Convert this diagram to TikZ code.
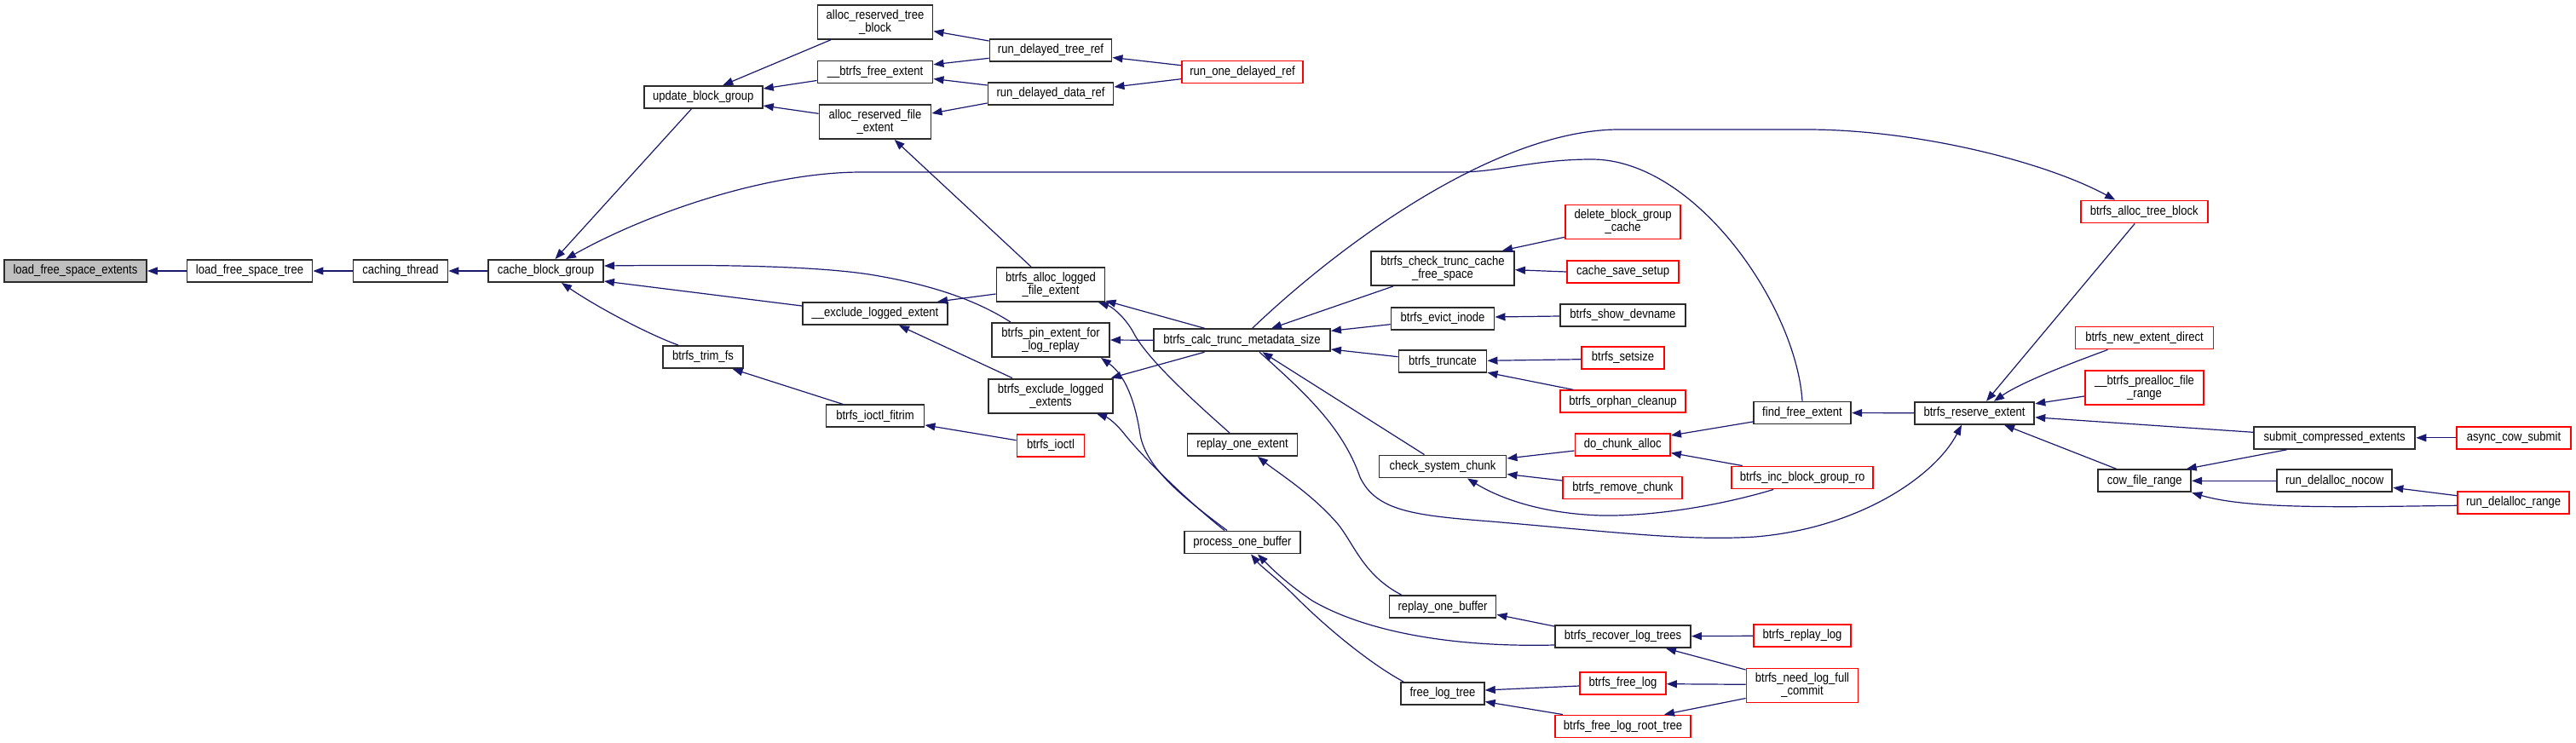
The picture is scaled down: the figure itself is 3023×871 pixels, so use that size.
\documentclass[tikz,border=0pt]{standalone}
\usepackage{fontspec}
\newfontfamily\dxfont[FakeStretch=0.87]{Liberation Sans}
\usetikzlibrary{arrows.meta}
\definecolor{edgec}{HTML}{191970}
\definecolor{nodeb}{HTML}{2B2B2B}
\definecolor{nodered}{HTML}{FF0000}
\tikzset{
  nb/.style={draw=nodeb, line width=1.9pt, fill=white, inner sep=0pt, minimum height=26pt,
    align=center, font=\dxfont\fontsize{15}{15}\selectfont},
  nr/.style={nb, draw=nodered},
  two/.style={minimum height=40pt},
  edge/.style={draw=edgec, line width=1.2pt, -{Triangle[length=12pt,width=9pt]}}
}
\begin{document}
\begin{tikzpicture}[x=1pt,y=-1pt]
\fill[white] (0,0) rectangle (3023,871);
\useasboundingbox (0,0) rectangle (3023,871);
% nodes
\node[nb, fill=gray!50, minimum width=167pt] (lfse) at (88.5,318) {load\_free\_space\_extents};
\node[nb, minimum width=147pt] (lfst) at (293,318) {load\_free\_space\_tree};
\node[nb, minimum width=111pt] (cth) at (470,318) {caching\_thread};
\node[nb, minimum width=135pt] (cbg) at (640.5,318) {cache\_block\_group};
\node[nb, minimum width=139pt] (ubg) at (825.3,114) {update\_block\_group};
\node[nb, two, minimum width=135pt] (artb) at (1027,25.8) {alloc\_reserved\_tree\\\_block};
\node[nb, minimum width=135pt] (bfe) at (1027,84.5) {\_\_btrfs\_free\_extent};
\node[nb, two, minimum width=131pt] (arfe) at (1027,143) {alloc\_reserved\_file\\\_extent};
\node[nb, minimum width=143pt] (rdtr) at (1233,59) {run\_delayed\_tree\_ref};
\node[nb, minimum width=147pt] (rddr) at (1233,110) {run\_delayed\_data\_ref};
\node[nr, minimum width=142pt] (rodr) at (1458,84.5) {run\_one\_delayed\_ref};
\node[nb, two, minimum width=127pt] (balfe) at (1233,334) {btrfs\_alloc\_logged\\\_file\_extent};
\node[nb, minimum width=170pt] (ele) at (1027,368) {\_\_exclude\_logged\_extent};
\node[nb, two, minimum width=138pt] (bpe) at (1233,399) {btrfs\_pin\_extent\_for\\\_log\_replay};
\node[nb, two, minimum width=145.5pt] (bele) at (1233,464.6) {btrfs\_exclude\_logged\\\_extents};
\node[nb, minimum width=94pt] (btfs) at (825,419) {btrfs\_trim\_fs};
\node[nb, minimum width=115pt] (bif) at (1027,488.4) {btrfs\_ioctl\_fitrim};
\node[nr, minimum width=79pt] (bio) at (1233,523) {btrfs\_ioctl};
\node[nb, minimum width=129pt] (roe) at (1458,522) {replay\_one\_extent};
\node[nb, minimum width=136pt] (pob) at (1458,636.5) {process\_one\_buffer};
\node[nb, minimum width=207pt] (bctms) at (1457.5,399.3) {btrfs\_calc\_trunc\_metadata\_size};
\node[nb, two, minimum width=168pt] (bctcfs) at (1693,315) {btrfs\_check\_trunc\_cache\\\_free\_space};
\node[nb, minimum width=121pt] (bei) at (1693,374) {btrfs\_evict\_inode};
\node[nb, minimum width=103pt] (btr) at (1693,424.3) {btrfs\_truncate};
\node[nb, minimum width=149pt] (csc) at (1693,547.5) {check\_system\_chunk};
\node[nb, minimum width=125pt] (rob) at (1693,712.3) {replay\_one\_buffer};
\node[nb, minimum width=97.5pt] (frt) at (1693,814) {free\_log\_tree};
\node[nr, two, minimum width=135pt] (dbgc) at (1904.6,260.5) {delete\_block\_group\\\_cache};
\node[nr, minimum width=131pt] (css) at (1904.6,319) {cache\_save\_setup};
\node[nb, minimum width=147pt] (bsd) at (1904.4,370) {btrfs\_show\_devname};
\node[nr, minimum width=97pt] (bss) at (1904.5,420) {btrfs\_setsize};
\node[nr, minimum width=147pt] (boc) at (1904.4,471.3) {btrfs\_orphan\_cleanup};
\node[nr, minimum width=111.5pt] (dca) at (1904.2,522) {do\_chunk\_alloc};
\node[nr, minimum width=140pt] (brc) at (1904.4,572.5) {btrfs\_remove\_chunk};
\node[nb, minimum width=159pt] (brlt) at (1904.5,747) {btrfs\_recover\_log\_trees};
\node[nr, minimum width=101pt] (bfl) at (1904.4,801.7) {btrfs\_free\_log};
\node[nr, minimum width=159pt] (bflrt) at (1904.5,852.5) {btrfs\_free\_log\_root\_tree};
\node[nb, minimum width=114.4pt] (ffe) at (2115,484.5) {find\_free\_extent};
\node[nr, minimum width=166.4pt] (bibgr) at (2115.2,560.5) {btrfs\_inc\_block\_group\_ro};
\node[nr, minimum width=114.4pt] (brl) at (2115,746) {btrfs\_replay\_log};
\node[nr, two, minimum width=131pt] (bnlfc) at (2115,804.5) {btrfs\_need\_log\_full\\\_commit};
\node[nb, minimum width=140.6pt] (bre) at (2317,484.8) {btrfs\_reserve\_extent};
\node[nr, minimum width=149pt] (batb) at (2516.2,248.5) {btrfs\_alloc\_tree\_block};
\node[nr, minimum width=162pt] (bned) at (2516.5,396.5) {btrfs\_new\_extent\_direct};
\node[nr, two, minimum width=139.3pt] (bpfr) at (2516.5,455) {\_\_btrfs\_prealloc\_file\\\_range};
\node[nb, minimum width=109pt] (cfr) at (2516.7,564.3) {cow\_file\_range};
\node[nb, minimum width=189.4pt] (sce) at (2739.7,513.8) {submit\_compressed\_extents};
\node[nb, minimum width=135.3pt] (rdn) at (2739.7,564.3) {run\_delalloc\_nocow};
\node[nr, minimum width=134.6pt] (acs) at (2950,513.8) {async\_cow\_submit};
\node[nr, minimum width=131pt] (rdr) at (2949.6,589.7) {run\_delalloc\_range};
% edges (caller -> callee, arrow at callee)
\draw[edge] (lfst) -- (lfse);
\draw[edge] (cth) -- (lfst);
\draw[edge] (cbg) -- (cth);
\draw[edge] ([xshift=-14pt]ubg.south) -- ([xshift=11pt]cbg.north);
\draw[edge] (ffe.north) .. controls (2108,360) and (1990,187) .. (1868,187) .. controls (1800,187) and (1760,202) .. (1712,202) -- (1011,202) .. controls (900,202) and (760,250) .. ([xshift=23.5pt]cbg.north);
\draw[edge] ([xshift=-47pt]bpe.north) .. controls (1150,355) and (1100,335) .. (1020,322) .. controls (940,310) and (800,311) .. ([yshift=6pt]cbg.east);
\draw[edge] ([yshift=9pt]ele.west) -- ([yshift=-12pt]cbg.east);
\draw[edge] ([xshift=-29pt]btfs.north) .. controls (760,392) and (700,360) .. ([xshift=18.5pt]cbg.south);
\draw[edge] ([xshift=-52pt]artb.south) -- ([xshift=23pt]ubg.north);
\draw[edge] ([yshift=-10pt]bfe.west) -- ([yshift=10pt]ubg.east);
\draw[edge] ([yshift=9.7pt]arfe.west) -- ([yshift=-10pt]ubg.east);
\draw[edge] ([yshift=11pt]rdtr.west) -- ([yshift=-10.8pt]artb.east);
\draw[edge] ([yshift=-9.3pt]rdtr.west) -- ([yshift=8.8pt]bfe.east);
\draw[edge] ([yshift=10pt]rddr.west) -- ([yshift=-8pt]bfe.east);
\draw[edge] ([yshift=-11pt]rddr.west) -- ([yshift=10pt]arfe.east);
\draw[edge] ([yshift=7.8pt]rodr.west) -- ([yshift=-8.5pt]rdtr.east);
\draw[edge] ([yshift=-8.2pt]rodr.west) -- ([yshift=8pt]rddr.east);
\draw[edge] ([xshift=-23pt]balfe.north) -- ([xshift=22.7pt]arfe.south);
\draw[edge] ([yshift=-11pt]balfe.west) -- ([xshift=73pt]ele.north);
\draw[edge] ([xshift=-43.7pt]bctms.north) -- ([yshift=2pt]balfe.south east);
\draw[edge] (bctms.west) -- (bpe.east);
\draw[edge] ([xshift=-15pt]roe.north) .. controls (1400,470) and (1345,420) .. (1330,390) .. controls (1320,372) and (1305,360) .. ([xshift=56pt]balfe.south);
\draw[edge] ([xshift=-44pt]bctms.south) -- ([xshift=-3pt]bele.north east);
\draw[edge] ([xshift=-45pt]bele.north) -- ([xshift=28pt]ele.south);
\draw[edge] ([xshift=-18pt]pob.north) .. controls (1390,585) and (1345,550) .. (1338,510) .. controls (1332,470) and (1320,440) .. ([xshift=59pt]bpe.south);
\draw[edge] ([xshift=-21pt]pob.north) .. controls (1390,585) and (1340,535) .. (1320,510) .. controls (1310,497) and (1300,490) .. ([xshift=54pt]bele.south);
\draw[edge] ([xshift=-37.6pt]bif.north) -- ([xshift=34.6pt]btfs.south);
\draw[edge] ([yshift=6.3pt]bio.west) -- ([yshift=-10.5pt]bif.east);
\draw[edge] ([xshift=-48pt]rob.north) .. controls (1600,675) and (1590,640) .. (1570,615) .. controls (1540,580) and (1500,555) .. ([xshift=18pt]roe.south);
\draw[edge] ([yshift=-10pt]brlt.west) .. controls (1700,760) and (1600,740) .. (1540,705) .. controls (1510,685) and (1490,665) .. ([xshift=18pt]pob.south);
\draw[edge] ([xshift=-46pt]frt.north) .. controls (1610,780) and (1560,740) .. (1520,700) .. controls (1500,680) and (1480,665) .. ([xshift=10pt]pob.south);
\draw[edge] ([xshift=-58pt]bctcfs.south) -- ([xshift=34.5pt]bctms.north);
\draw[edge] ([yshift=-6.7pt]bei.west) -- ([yshift=11pt]bctms.east);
\draw[edge] ([yshift=5.6pt]btr.west) -- ([yshift=-10.7pt]bctms.east);
\draw[edge] ([xshift=-21.5pt]csc.north) -- ([xshift=24pt]bctms.south);
\draw[edge] ([yshift=-7pt]dca.west) -- ([yshift=9.5pt]csc.east);
\draw[edge] ([yshift=8.5pt]brc.west) -- ([yshift=-9pt]csc.east);
\draw[edge] ([yshift=-10.5pt]ffe.west) -- ([yshift=11pt]dca.east);
\draw[edge] ([xshift=-70.5pt]bibgr.north) -- ([yshift=-9.5pt]dca.east);
\draw[edge] ([xshift=-34pt]bibgr.south) .. controls (2030,590) and (1950,606) .. (1880,605) .. controls (1810,603) and (1760,585) .. ([xshift=29pt]csc.south);
\draw[edge] (bre) -- (ffe);
\draw[edge] ([xshift=12pt]bctms.north) .. controls (1580,280) and (1760,152) .. (1900,152) -- (2120,152) .. controls (2250,152) and (2400,190) .. ([xshift=-34pt]batb.north);
\draw[edge] ([xshift=-11pt]batb.south) -- ([xshift=14pt]bre.north);
\draw[edge] ([xshift=-43pt]bned.south) .. controls (2420,430) and (2370,450) .. ([xshift=23pt]bre.north);
\draw[edge] ([yshift=-10pt]bpfr.west) -- ([yshift=11pt]bre.east);
\draw[edge] ([yshift=6.5pt]sce.west) -- ([yshift=-5pt]bre.east);
\draw[edge] ([xshift=-33pt]cfr.north) -- ([xshift=35pt]bre.south);
\draw[edge] ([xshift=20.5pt]bctms.south) .. controls (1530,460) and (1575,500) .. (1596,560) .. controls (1615,600) and (1660,605) .. (1750,612) .. controls (1900,625) and (1980,635) .. (2060,630) .. controls (2180,620) and (2270,560) .. ([xshift=-15pt]bre.south);
\draw[edge] ([xshift=-56pt]sce.south) -- ([xshift=49pt]cfr.north);
\draw[edge] (rdn) -- (cfr);
\draw[edge] ([yshift=-3.6pt]rdr.west) .. controls (2750,595) and (2640,598) .. (cfr.south east);
\draw[edge] ([yshift=8pt]rdr.west) -- ([yshift=-8pt]rdn.east);
\draw[edge] (acs) -- (sce);
\draw[edge] ([yshift=-17.8pt]dbgc.west) -- ([xshift=70pt]bctcfs.north);
\draw[edge] (css.west) -- ([yshift=-1.7pt]bctcfs.east);
\draw[edge] ([yshift=-1pt]bsd.west) -- ([yshift=2pt]bei.east);
\draw[edge] ([yshift=-1.7pt]bss.west) -- ([yshift=1pt]btr.east);
\draw[edge] ([xshift=-58pt]boc.north) -- ([yshift=1pt]btr.south east);
\draw[edge] ([yshift=12pt]brlt.west) -- ([yshift=-9pt]rob.east);
\draw[edge] (brl) -- (brlt);
\draw[edge] ([yshift=18.5pt]bnlfc.west) -- ([xshift=50.5pt]brlt.south);
\draw[edge] ([yshift=-3.3pt]bfl.west) -- ([yshift=4pt]frt.east);
\draw[edge] ([xshift=-70.5pt]bflrt.north) -- ([yshift=-9.5pt]frt.east);
\draw[edge] ([yshift=1.2pt]bnlfc.west) -- ([yshift=-1pt]bfl.east);
\draw[edge] ([yshift=-15pt]bnlfc.west) -- ([xshift=48.5pt]bflrt.north);
\end{tikzpicture}
\end{document}
